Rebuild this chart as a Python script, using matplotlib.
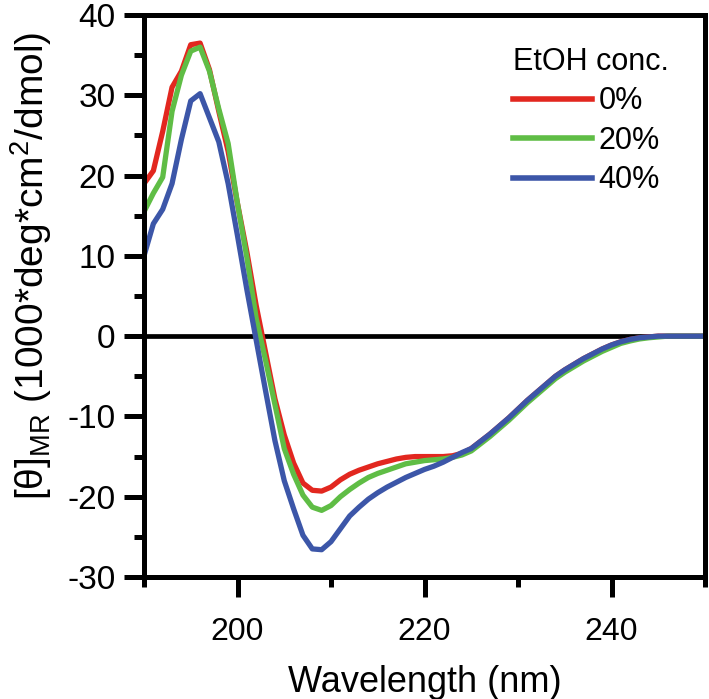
import matplotlib
matplotlib.use("Agg")
import matplotlib.pyplot as plt
from matplotlib.ticker import MultipleLocator

plt.rcParams['font.family'] = ['Liberation Sans', 'DejaVu Sans']
plt.rcParams['mathtext.fontset'] = 'custom'
plt.rcParams['mathtext.rm'] = 'Liberation Sans'
plt.rcParams['mathtext.it'] = 'Liberation Sans'
plt.rcParams['axes.unicode_minus'] = False

wavelength = list(range(190, 251))

ethanol_0 = [19.0, 20.6, 25.5, 31.0, 33.0, 36.3, 36.5, 33.2, 28.0, 23.0,
             16.5, 10.5, 3.8, -2.0, -7.8, -12.3, -15.8, -18.3, -19.2, -19.3,
             -18.8, -17.9, -17.2, -16.7, -16.3, -15.9, -15.6, -15.3, -15.1, -15.0,
             -15.0, -15.0, -15.0, -14.9, -14.6, -14.0, -13.1, -12.2, -11.2, -10.2,
             -9.1, -8.0, -7.0, -6.0, -5.0, -4.2, -3.5, -2.8, -2.2, -1.6,
             -1.1, -0.7, -0.4, -0.2, -0.1, 0.0, 0.0, 0.0, 0.0, 0.0, 0.0]

ethanol_20 = [15.5, 17.8, 19.8, 28.0, 32.5, 35.5, 36.0, 33.0, 28.3, 24.0,
              16.5, 9.8, 2.2, -3.0, -8.5, -14.0, -17.2, -19.8, -21.3, -21.7,
              -21.1, -20.0, -19.1, -18.3, -17.6, -17.1, -16.7, -16.3, -15.9, -15.7,
              -15.5, -15.4, -15.3, -15.1, -14.8, -14.3, -13.4, -12.5, -11.5, -10.5,
              -9.4, -8.3, -7.3, -6.3, -5.3, -4.5, -3.8, -3.1, -2.5, -1.9,
              -1.4, -0.9, -0.6, -0.35, -0.2, -0.1, 0.0, 0.0, 0.0, 0.0, 0.0]

ethanol_40 = [10.0, 14.0, 15.8, 19.0, 24.5, 29.3, 30.2, 27.2, 24.2, 19.0,
              12.5, 5.8, -0.5, -6.8, -13.0, -18.0, -21.5, -24.8, -26.5, -26.6,
              -25.6, -24.0, -22.4, -21.3, -20.3, -19.5, -18.8, -18.2, -17.6, -17.1,
              -16.6, -16.2, -15.7, -15.1, -14.5, -14.0, -13.1, -12.2, -11.2, -10.2,
              -9.1, -8.0, -7.0, -6.0, -5.0, -4.2, -3.5, -2.8, -2.2, -1.6,
              -1.1, -0.7, -0.4, -0.2, -0.1, 0.0, 0.0, 0.0, 0.0, 0.0, 0.0]

series_labels = ['0%', '20%', '40%']
series_colors = ['#e2271f', '#5fbd45', '#3c56a8']
legend_title = 'EtOH conc.'

fig = plt.figure(figsize=(7.09, 6.99), dpi=100)
ax = fig.add_axes([144/709, 1-577/699, (705-144)/709, (577-15)/699])

ax.axhline(0, color='black', lw=3.4, zorder=1)
for ys, lab, col in zip([ethanol_0, ethanol_20, ethanol_40], series_labels, series_colors):
    ax.plot(wavelength, ys, color=col, lw=3.8, label=lab, zorder=2,
            solid_joinstyle='round')

ax.set_xlim(190, 250)
ax.set_ylim(-30, 40)
ax.set_xticks([200, 220, 240])
ax.set_xticks([190, 210, 230, 250], minor=True)
ax.yaxis.set_major_locator(MultipleLocator(10))
ax.yaxis.set_minor_locator(MultipleLocator(5))

for s in ax.spines.values():
    s.set_linewidth(3.6)
ax.tick_params(which='major', direction='out', length=14.5, width=3.6,
               labelsize=24, pad=6)
ax.tick_params(axis='x', which='major', pad=14, labelsize=23)
ax.tick_params(which='minor', direction='out', length=7.5, width=3.6)

ax.set_xlabel('Wavelength (nm)', fontsize=26, labelpad=13)
ax.set_ylabel(r'[θ]$_{\mathrm{MR}}$ (1000*deg*cm$^{2}$/dmol)', fontsize=28, labelpad=2)
ax.yaxis.set_label_coords(8/709, 0.5, transform=fig.transFigure)
ax.yaxis.label.set_verticalalignment('top')
ax.yaxis.label.set_position((8/709, 1 - 266/699))

leg = ax.legend(title=legend_title, loc='upper left', bbox_to_anchor=(513/709, 1-47/699),
                bbox_transform=fig.transFigure, frameon=False, fontsize=22,
                title_fontsize=22, handlelength=2.6, handletextpad=0.2,
                labelspacing=0.31, borderpad=0, borderaxespad=0, alignment='left')
for h in leg.get_lines():
    h.set_linewidth(4.0)

fig.savefig('out.png', dpi=100)
